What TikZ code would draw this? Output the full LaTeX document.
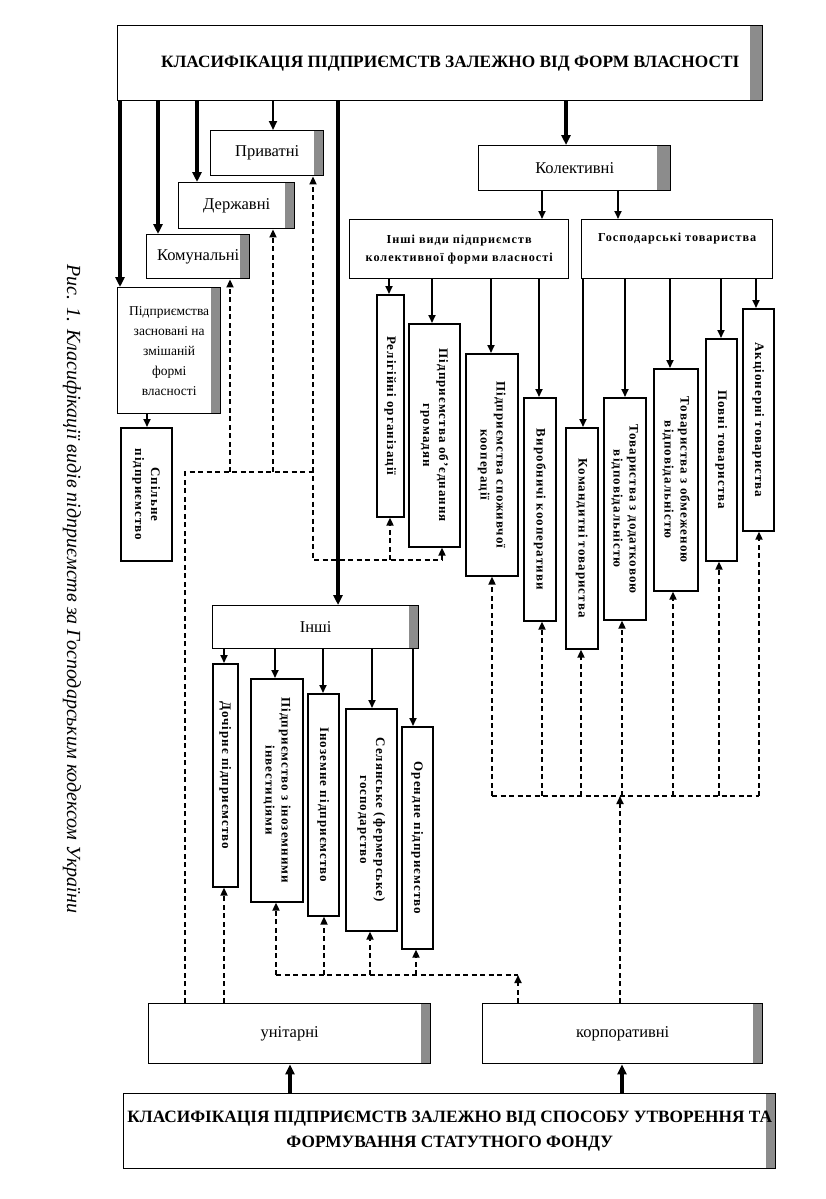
\documentclass[tikz,border=0pt]{standalone}
\usepackage{fontspec}
\usepackage{graphicx}
\setmainfont{Liberation Serif}
\newfontfamily\spfont[LetterSpace=8]{Liberation Serif}
\usetikzlibrary{arrows.meta}
\newcommand\vt[1]{\rotatebox{-90}{\begin{tabular}{@{}c@{}}#1\end{tabular}}}
\newcommand\bx[7][]{\node[box,minimum width=#5-#3,minimum height=#6-#4,#1] (#2) at (#3,#4) {#7};}
\tikzset{
  box/.style={draw, line width=1.4pt, inner sep=0pt, anchor=north west, align=center},
  strip/.style={path picture={\fill[black!45] ([xshift=-#1]path picture bounding box.north east) rectangle (path picture bounding box.south east);}},
  strip/.default=10pt,
  title/.style={font=\bfseries\fontsize{17.3}{25}\selectfont},
  lab/.style={font=\fontsize{16.5}{20}\selectfont},
  small/.style={font=\spfont\bfseries\fontsize{12.2}{18}\selectfont},
  vlab/.style={box, line width=1.6pt, font=\spfont\bfseries\fontsize{13}{16}\selectfont},
  thk/.style={line width=3.2pt, -{Triangle[length=10pt,width=9pt]}},
  med/.style={line width=2.2pt, -{Triangle[length=9pt,width=8pt]}},
  thn/.style={line width=1.7pt, -{Triangle[length=8pt,width=7pt]}},
  dsh/.style={line width=1.7pt, dash pattern=on 5pt off 3.5pt},
  dsha/.style={dsh, -{Triangle[length=8pt,width=7pt]}},
}
\begin{document}
\begin{tikzpicture}[x=1pt,y=-1pt]
\useasboundingbox (0,0) rectangle (826,1199);

% caption
\node[rotate=-90, font=\itshape\fontsize{20}{24}\selectfont] (cap) at (72,589) {Рис. 1. Класифікації видів підприємств за Господарським кодексом України};

% top level
\bx[title,strip=13pt]{top}{117}{25}{762}{100}{\hspace*{20pt}КЛАСИФІКАЦІЯ ПІДПРИЄМСТВ ЗАЛЕЖНО ВІД ФОРМ ВЛАСНОСТІ}
\bx[lab,strip]{pryv}{210}{130}{323}{175}{Приватні}
\bx[lab,strip]{derzh}{178}{182}{294}{228}{Державні}
\bx[lab,strip]{komu}{146}{234}{249}{278}{Комунальні}
\bx[strip,font=\fontsize{13.5}{20}\selectfont]{zasn}{117}{287}{220}{413}{Підприємства\\засновані на\\змішаній\\формі\\власності}
\bx[vlab]{spil}{120}{427}{171}{560}{\vt{Спільне\\підприємство}}

\bx[lab,strip=14pt]{kol}{478}{145}{670}{190}{Колективні}
\bx[small]{inshv}{349}{219}{568}{278}{Інші види підприємств\\колективної форми власності}
\bx[small]{gosp}{581}{219}{772}{278}{Господарські товариства\\\strut}

\bx[vlab]{rel}{376}{294}{403}{516}{\vt{Релігійні організації}}
\bx[vlab]{obj}{408}{323}{459}{546}{\vt{Підприємства об’єднання\\громадян}}
\bx[vlab]{spoz}{465}{353}{517}{575}{\vt{Підприємства споживчої\\кооперації}}
\bx[vlab]{vyr}{523}{397}{555}{620}{\vt{Виробничі кооперативи}}
\bx[vlab]{kom}{565}{427}{597}{648}{\vt{Командитні товариства}}
\bx[vlab]{dod}{603}{397}{645}{619}{\vt{Товариства з додатковою\\відповідальністю}}
\bx[vlab]{obm}{653}{368}{697}{590}{\vt{Товариства з обмеженою\\відповідальністю}}
\bx[vlab]{pov}{705}{338}{736}{560}{\vt{Повні товариства}}
\bx[vlab]{akc}{742}{308}{773}{530}{\vt{Акціонерні товариства}}

\bx[lab,strip]{inshi}{212}{605}{418}{648}{Інші}
\bx[vlab]{doch}{212}{663}{237}{886}{\vt{Дочірнє підприємство}}
\bx[vlab]{inv}{250}{678}{302}{901}{\vt{Підприємство з іноземними\\інвестиціями}}
\bx[vlab]{inoz}{307}{693}{338}{915}{\vt{Іноземне підприємство}}
\bx[vlab]{sel}{345}{708}{396}{930}{\vt{Селянське (фермерське)\\господарство}}
\bx[vlab]{oren}{401}{726}{432}{948}{\vt{Орендне підприємство}}

\bx[lab,strip]{unit}{148}{1003}{430}{1063}{унітарні}
\bx[lab,strip]{korp}{482}{1003}{762}{1063}{корпоративні}
\bx[title,strip]{bot}{123}{1093}{775}{1168}{КЛАСИФІКАЦІЯ ПІДПРИЄМСТВ ЗАЛЕЖНО ВІД СПОСОБУ УТВОРЕННЯ ТА\\ФОРМУВАННЯ СТАТУТНОГО ФОНДУ}

% solid arrows from top
\draw[thk] (top.south -| 120,0) -- (zasn.north -| 120,0);
\draw[thk] (top.south -| 158,0) -- (komu.north -| 158,0);
\draw[thk] (top.south -| 197,0) -- (derzh.north -| 197,0);
\draw[med] (top.south -| 273,0) -- (pryv.north -| 273,0);
\draw[thk] (top.south -| 338,0) -- (inshi.north -| 338,0);
\draw[thk] (top.south -| 566,0) -- (kol.north -| 566,0);
\draw[thn] (zasn.south -| 147,0) -- (spil.north -| 147,0);

\draw[thn] (kol.south -| 542,0) -- (inshv.north -| 542,0);
\draw[thn] (kol.south -| 618,0) -- (gosp.north -| 618,0);
\draw[thn] (inshv.south -| 389,0) -- (rel.north -| 389,0);
\draw[thn] (inshv.south -| 432,0) -- (obj.north -| 432,0);
\draw[thn] (inshv.south -| 491,0) -- (spoz.north -| 491,0);
\draw[thn] (inshv.south -| 539,0) -- (vyr.north -| 539,0);
\draw[thn] (gosp.south -| 583,0) -- (kom.north -| 583,0);
\draw[thn] (gosp.south -| 625,0) -- (dod.north -| 625,0);
\draw[thn] (gosp.south -| 670,0) -- (obm.north -| 670,0);
\draw[thn] (gosp.south -| 721,0) -- (pov.north -| 721,0);
\draw[thn] (gosp.south -| 756,0) -- (akc.north -| 756,0);

\draw[thn] (inshi.south -| 224,0) -- (doch.north -| 224,0);
\draw[thn] (inshi.south -| 275,0) -- (inv.north -| 275,0);
\draw[thn] (inshi.south -| 323,0) -- (inoz.north -| 323,0);
\draw[thn] (inshi.south -| 372,0) -- (sel.north -| 372,0);
\draw[thn] (inshi.south -| 413,0) -- (oren.north -| 413,0);

\draw[thk] (bot.north -| 290,0) -- (unit.south -| 290,0);
\draw[thk] (bot.north -| 622,0) -- (korp.south -| 622,0);

% dashed: unitary
\coordinate (jA) at (185,472);
\coordinate (jB) at (313,472);
\coordinate (jC) at (313,560);
\coordinate (jD) at (442,560);
\draw[dsh] (unit.north -| jA) -- (jA) -- (jB) -- (jC) -- (jD);
\draw[dsha] (jA -| 230,0) -- (komu.south -| 230,0);
\draw[dsha] (jA -| 273,0) -- (derzh.south -| 273,0);
\draw[dsha] (jB) -- (pryv.south -| jB);
\draw[dsha] (jC -| 390,0) -- (rel.south -| 390,0);
\draw[dsha] (jD) -- (obj.south -| jD);
\draw[dsha] (unit.north -| 224,0) -- (doch.south -| 224,0);

% dashed: corporate, lower group
\coordinate (jE) at (276,975);
\coordinate (jF) at (518,975);
\draw[dsh] (jE) -- (jF);
\draw[dsha] (jE) -- (inv.south -| jE);
\draw[dsha] (jE -| 324,0) -- (inoz.south -| 324,0);
\draw[dsha] (jE -| 370,0) -- (sel.south -| 370,0);
\draw[dsha] (jE -| 416,0) -- (oren.south -| 416,0);
\draw[dsha] (korp.north -| jF) -- (jF);

% dashed: corporate, right group
\coordinate (jG) at (492,796);
\coordinate (jH) at (759,796);
\coordinate (jK) at (620,796);
\draw[dsh] (jG) -- (jH);
\draw[dsha] (korp.north -| jK) -- (jK);
\draw[dsha] (jG) -- (spoz.south -| jG);
\draw[dsha] (jG -| 542,0) -- (vyr.south -| 542,0);
\draw[dsha] (jG -| 581,0) -- (kom.south -| 581,0);
\draw[dsha] (jG -| 622,0) -- (dod.south -| 622,0);
\draw[dsha] (jG -| 673,0) -- (obm.south -| 673,0);
\draw[dsha] (jG -| 719,0) -- (pov.south -| 719,0);
\draw[dsha] (jH) -- (akc.south -| jH);
\end{tikzpicture}
\end{document}
